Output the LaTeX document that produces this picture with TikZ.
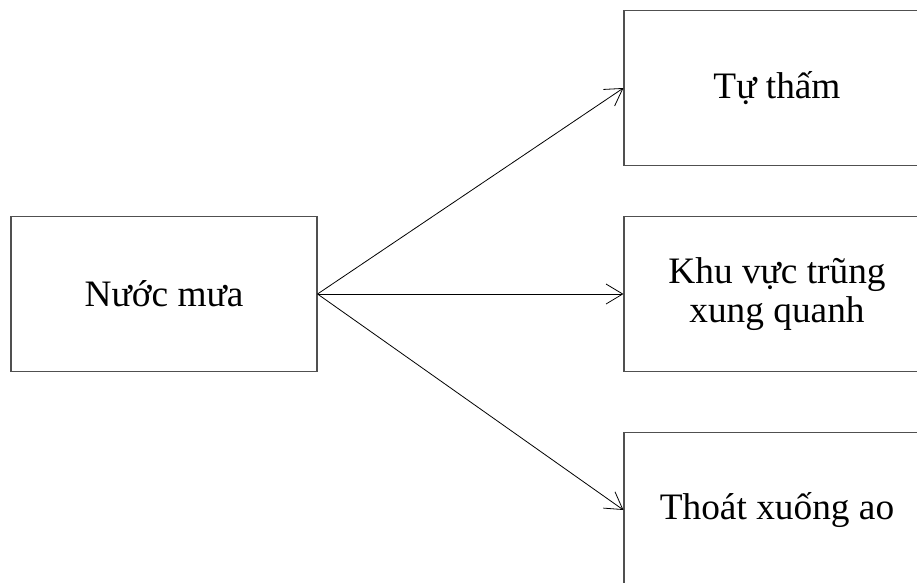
\documentclass[tikz,border=0pt]{standalone}
\usepackage{fontspec}
\setmainfont{Liberation Serif}
\usepackage{tikz}
\usetikzlibrary{arrows.meta,positioning}
\definecolor{boxgray}{HTML}{505050}

\begin{document}
\begin{tikzpicture}[
  x=0.75pt, y=-0.75pt,
  box/.style={draw=boxgray, line width=0.8pt, minimum width=229.5pt, minimum height=116pt, inner sep=0pt, align=center, font=\fontsize{28}{29}\selectfont},
  arr/.style={-{Straight Barb[length=12.5pt, width=15pt]}, line width=0.6pt, black}
]
\useasboundingbox (0, 0) rectangle (917, 582);

\node[box] (rain) at (164, 294) {Nước mưa};
\node[box] (seep) at (777, 88) {Tự thấm};
\node[box] (low) at (777, 294) {Khu vực trũng\\xung quanh};
\node[box] (pond) at (777, 510) {Thoát xuống ao};

\draw[arr] (rain.east) -- (seep.west);
\draw[arr] (rain.east) -- (low.west);
\draw[arr] (rain.east) -- (pond.west);

\end{tikzpicture}
\end{document}
